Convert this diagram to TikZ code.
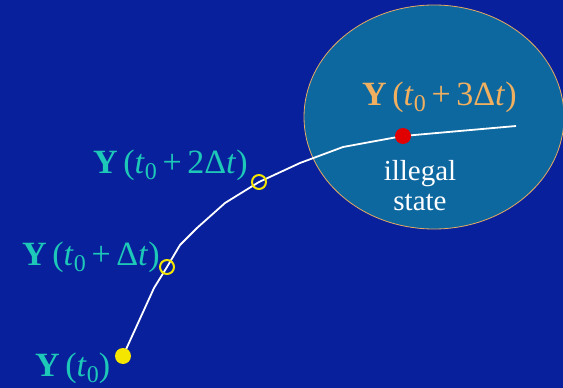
\documentclass[tikz,border=0pt]{standalone}
\usepackage{fontspec}
\setmainfont{Liberation Serif}
\usetikzlibrary{shapes.geometric}
\definecolor{bgblue}{RGB}{8,32,156}
\definecolor{regionfill}{RGB}{14,104,160}
\definecolor{regionedge}{RGB}{232,170,96}
\definecolor{labcyan}{RGB}{30,200,184}
\definecolor{laborange}{RGB}{240,176,96}
\definecolor{dotyellow}{RGB}{245,230,0}
\definecolor{dotred}{RGB}{225,0,0}
\tikzset{
  lab/.style={anchor=base west,inner sep=0pt,font=\fontsize{34}{40}\selectfont,text=labcyan},
  opendot/.style={circle,draw=dotyellow,line width=2pt,minimum size=14pt,inner sep=0pt},
  filldot/.style={circle,minimum size=16pt,inner sep=0pt},
  traj/.style={draw=white,line width=1.8pt,line join=round}
}
\newcommand{\lbl}[1]{{\bfseries Y}\,(\textit{t}\raisebox{-0.2em}{\fontsize{24}{24}\selectfont 0}#1)}
\begin{document}
\begin{tikzpicture}[x=1pt,y=-1pt]
\fill[bgblue] (0,0) rectangle (563,388);
\useasboundingbox (0,0) rectangle (563,388);
\node[ellipse,draw=regionedge,fill=regionfill,line width=0.8pt,minimum width=260pt,minimum height=224pt,inner sep=0pt] (region) at (434,117) {};
% trajectory
\coordinate (p0) at (123,356);
\coordinate (a1) at (154,288);
\coordinate (p1) at (167,267);
\coordinate (a2) at (180,245);
\coordinate (a3) at (197,228);
\coordinate (a4) at (225,203);
\coordinate (p2) at (259,182);
\coordinate (a5) at (300,163);
\coordinate (a6) at (343,147);
\coordinate (p3) at (403,136);
\coordinate (pend) at (516,126);
\draw[traj] (p0) -- (a1) -- (p1) -- (a2) -- (a3) -- (a4) -- (p2) -- (a5) -- (a6) -- (p3) -- (pend);
\node[filldot,fill=dotyellow] (d0) at (p0) {};
\node[opendot] (d1) at (p1) {};
\node[opendot] (d2) at (p2) {};
\node[filldot,fill=dotred] (d3) at (p3) {};
% labels
\node[lab] (l0) at (35,376) {\lbl{}};
\node[lab] (l1) at (22,265) {\lbl{\,+\,Δ\textit{t}}};
\node[lab] (l2) at (93,173) {\lbl{\,+\,2Δ\textit{t}}};
\node[lab,text=laborange] (l3) at (362,105) {\lbl{\,+\,3Δ\textit{t}}};
\node[align=center,inner sep=0pt,text=white,font=\fontsize{29}{30}\selectfont,anchor=base] (ill) at (420,210) {illegal\\state};
\end{tikzpicture}
\end{document}
